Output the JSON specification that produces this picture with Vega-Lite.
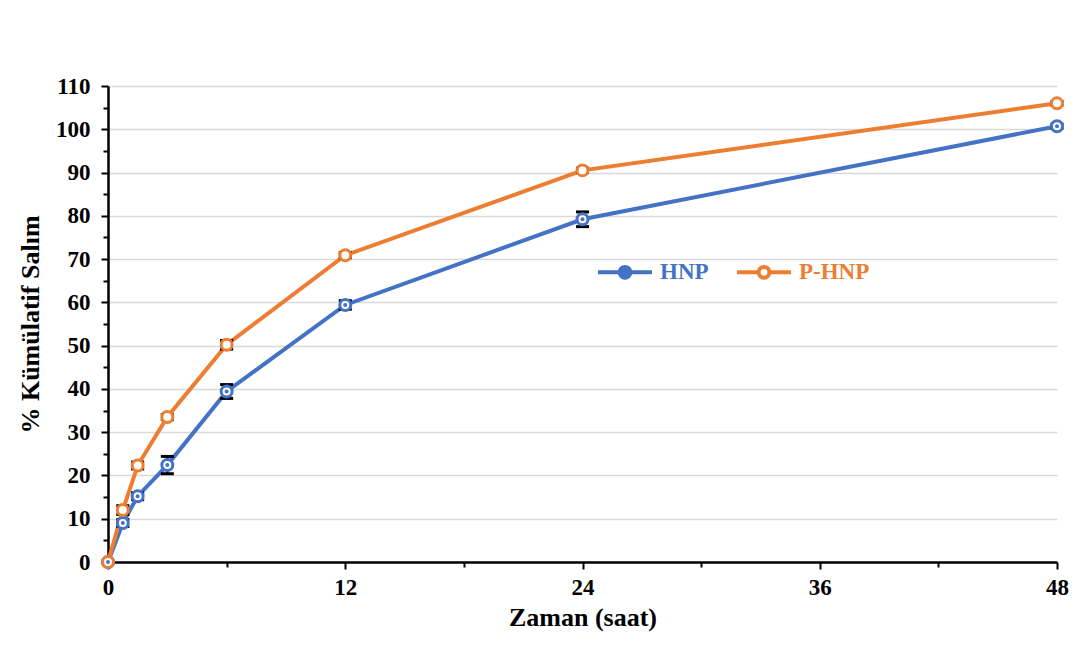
{
  "$schema": "https://vega.github.io/schema/vega-lite/v6.json",
  "width": 949,
  "height": 476,
  "autosize": {"type": "none"},
  "padding": {"left": 108, "top": 86, "right": 24, "bottom": 98},
  "background": "white",
  "config": {"view": {"stroke": null}, "font": "Liberation Serif"},
  "data": {
    "values": [
      {"series": "HNP", "t": 0, "y": 0, "err": 0},
      {"series": "HNP", "t": 0.75, "y": 9.0, "err": 0.8},
      {"series": "HNP", "t": 1.5, "y": 15.2, "err": 0.8},
      {"series": "HNP", "t": 3, "y": 22.4, "err": 2.0},
      {"series": "HNP", "t": 6, "y": 39.4, "err": 1.6},
      {"series": "HNP", "t": 12, "y": 59.4, "err": 1.0},
      {"series": "HNP", "t": 24, "y": 79.2, "err": 1.7},
      {"series": "HNP", "t": 48, "y": 100.7, "err": 0.5},
      {"series": "P-HNP", "t": 0, "y": 0, "err": 0},
      {"series": "P-HNP", "t": 0.75, "y": 12.0, "err": 1.0},
      {"series": "P-HNP", "t": 1.5, "y": 22.3, "err": 0.8},
      {"series": "P-HNP", "t": 3, "y": 33.5, "err": 0.6},
      {"series": "P-HNP", "t": 6, "y": 50.2, "err": 1.0},
      {"series": "P-HNP", "t": 12, "y": 70.9, "err": 0.6},
      {"series": "P-HNP", "t": 24, "y": 90.5, "err": 0.5},
      {"series": "P-HNP", "t": 48, "y": 106.0, "err": 0.4}
    ]
  },
  "encoding": {
    "x": {
      "field": "t", "type": "quantitative", "title": "Zaman (saat)",
      "scale": {"domain": [0, 48], "nice": false},
      "axis": {
        "values": [0, 6, 12, 18, 24, 30, 36, 42, 48],
        "labelExpr": "datum.value % 12 === 0 ? datum.label : ''",
        "labelOverlap": false, "labelFlush": false,
        "grid": false,
        "domainColor": "black", "domainWidth": 2.5,
        "tickColor": "black", "tickWidth": 2,
        "tickSize": {"condition": {"test": "datum.value % 12 === 0", "value": 7}, "value": 5},
        "labelFont": "Liberation Serif", "labelFontSize": 23, "labelFontWeight": "bold", "labelColor": "black", "labelPadding": 7,
        "titleFont": "Liberation Serif", "titleFontSize": 26, "titleFontWeight": "bold", "titleColor": "black", "titlePadding": 5
      }
    },
    "y": {
      "field": "y", "type": "quantitative", "title": "% Kümülatif Salım",
      "scale": {"domain": [0, 110], "nice": false},
      "axis": {
        "values": [0, 5, 10, 15, 20, 25, 30, 35, 40, 45, 50, 55, 60, 65, 70, 75, 80, 85, 90, 95, 100, 105, 110],
        "labelExpr": "datum.value % 10 === 0 ? datum.label : ''",
        "labelOverlap": false, "labelFlush": false,
        "grid": true, "gridColor": "#D9D9D9", "gridWidth": 1.5,
        "gridOpacity": {"condition": {"test": "datum.value % 10 === 0 && datum.value > 0", "value": 1}, "value": 0},
        "domainColor": "black", "domainWidth": 2.5,
        "tickColor": "black", "tickWidth": 2,
        "tickSize": {"condition": {"test": "datum.value % 10 === 0", "value": 7}, "value": 5},
        "labelFont": "Liberation Serif", "labelFontSize": 23, "labelFontWeight": "bold", "labelColor": "black", "labelPadding": 11,
        "titleFont": "Liberation Serif", "titleFontSize": 26, "titleFontWeight": "bold", "titleColor": "black", "titlePadding": 12
      }
    }
  },
  "layer": [
    {
      "mark": {"type": "line", "strokeWidth": 4},
      "encoding": {
        "color": {
          "field": "series", "type": "nominal",
          "scale": {"domain": ["HNP", "P-HNP"], "range": ["#4472C4", "#ED7D31"]},
          "legend": {
            "orient": "none", "legendX": 488, "legendY": 157,
            "direction": "horizontal", "title": null,
            "symbolType": "M-1,0L-0.2,0M0.2,0L1,0M-0.2,0A0.2,0.2,0,1,1,0.2,0A0.2,0.2,0,1,1,-0.2,0",
            "symbolSize": 2916, "symbolStrokeWidth": 4,
            "labelFont": "Liberation Serif", "labelFontSize": 23, "labelFontWeight": "bold",
            "labelOffset": 6, "columnPadding": 20,
            "encode": {
              "labels": {"update": {"fill": {"signal": "datum.value === 'HNP' ? '#4472C4' : '#ED7D31'"}}},
              "symbols": {"update": {"fill": {"signal": "datum.value === 'HNP' ? '#4472C4' : '#ffffff'"}, "fillOpacity": {"value": 1}}}
            }
          }
        }
      }
    },
    {
      "transform": [{"filter": "datum.err > 0"}],
      "mark": {
        "type": "errorbar",
        "ticks": {"size": 13, "thickness": 3, "color": "black", "opacity": 1},
        "rule": {"color": "black", "strokeWidth": 2.5, "opacity": 1}
      },
      "encoding": {"yError": {"field": "err"}}
    },
    {
      "mark": {"type": "point", "shape": "circle", "size": 120, "strokeWidth": 3, "fill": "white", "fillOpacity": 1, "filled": false, "opacity": 1},
      "encoding": {
        "stroke": {
          "field": "series", "type": "nominal",
          "scale": {"domain": ["HNP", "P-HNP"], "range": ["#4472C4", "#ED7D31"]},
          "legend": null
        }
      }
    },
    {
      "transform": [{"filter": "datum.series === 'HNP'"}],
      "mark": {"type": "circle", "size": 16, "color": "#4472C4", "opacity": 1},
      "encoding": {}
    }
  ]
}
